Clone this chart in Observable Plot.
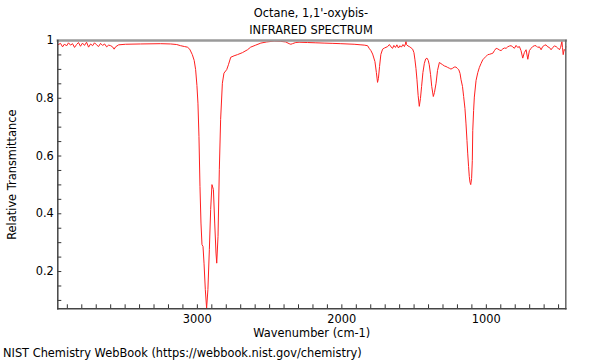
<!DOCTYPE html>
<html><head><meta charset="utf-8">
<script src="https://cdn.jsdelivr.net/npm/d3@7"></script>
<script src="https://cdn.jsdelivr.net/npm/@observablehq/plot@0.6"></script>
<style>
body{margin:0;background:#fff;font-family:"DejaVu Sans",sans-serif;}
#wrap{position:relative;width:600px;height:360px;overflow:hidden;background:#fff}
#wrap svg{position:absolute;left:0;top:0}
.t{position:absolute;font-size:11.4px;line-height:14px;color:#000;white-space:nowrap}
</style></head><body>
<div id="wrap">
<div class="t" style="left:311px;top:6px;transform:translateX(-50%)">Octane, 1,1'-oxybis-</div>
<div class="t" style="left:311px;top:23px;transform:translateX(-50%)">INFRARED SPECTRUM</div>
<div class="t" style="left:3px;top:346px">NIST Chemistry WebBook (https://webbook.nist.gov/chemistry)</div>
</div>
<script>
const wavenumber = [3966,3947,3933,3919,3906,3892,3878,3864,3850,3836,3823,3809,3795,3781,3767,3753,3739,3725,3712,3698,3684,3670,3656,3642,3628,3614,3600,3587,3576,3566,3545,3497,3393,3254,3185,3143,3116,3088,3069,3053,3035,3022,3012,3003,2996,2989,2982,2975,2968,2961,2954,2945,2936,2927,2917,2908,2899,2889,2880,2871,2866,2857,2848,2839,2827,2816,2797,2785,2769,2746,2723,2688,2653,2631,2596,2561,2520,2469,2423,2388,2365,2353,2342,2319,2296,2238,2180,2123,2062,2007,1915,1868,1845,1822,1811,1799,1787,1771,1761,1753,1747,1739,1730,1718,1705,1683,1671,1660,1649,1640,1629,1619,1608,1598,1588,1577,1567,1560,1556,1553,1542,1533,1522,1510,1501,1494,1487,1480,1472,1464,1456,1448,1439,1429,1420,1411,1402,1395,1386,1378,1367,1359,1348,1338,1325,1314,1302,1291,1279,1269,1256,1245,1233,1222,1210,1200,1191,1182,1175,1165,1157,1148,1141,1134,1129,1123,1118,1113,1108,1102,1097,1094,1088,1083,1071,1059,1048,1037,1025,1014,1002,990,979,967,955,944,932,921,909,898,886,875,863,852,840,829,817,806,794,783,771,760,748,737,725,713,702,690,679,667,656,644,633,621,610,598,587,575,564,552,540,529,517,506,494,486,477,473,468,461,454,450];
const transmittance = [.985,.990,.978,.988,.981,.992,.984,.989,.976,.986,.993,.980,.991,.983,.994,.977,.988,.982,.992,.985,.979,.990,.983,.988,.978,.984,.982,.978,.970,.978,.985,.987,.988,.989,.988,.986,.982,.979,.977,.970,.951,.931,.899,.844,.783,.668,.495,.368,.293,.287,.229,.137,.073,.138,.277,.415,.501,.484,.368,.264,.229,.322,.554,.727,.852,.887,.899,.916,.942,.947,.951,.958,.968,.977,.984,.991,.995,.998,.997,.995,.989,.987,.989,.993,.994,.993,.992,.991,.990,.989,.987,.985,.984,.982,.973,.965,.953,.927,.889,.855,.868,.910,.952,.970,.974,.979,.986,.978,.973,.983,.976,.985,.974,.982,.977,.986,.979,.988,1.000,.986,.981,.979,.975,.970,.958,.933,.903,.864,.810,.772,.799,.841,.889,.921,.936,.939,.931,.916,.882,.841,.806,.820,.852,.896,.924,.920,.916,.912,.910,.907,.904,.901,.904,.908,.908,.903,.899,.886,.864,.841,.806,.765,.714,.654,.610,.564,.529,.509,.501,.522,.585,.688,.758,.804,.862,.889,.907,.920,.933,.939,.945,.951,.952,.954,.956,.965,.973,.971,.967,.965,.971,.974,.973,.978,.981,.982,.978,.973,.983,.976,.979,.965,.939,.958,.968,.935,.965,.973,.979,.982,.982,.976,.978,.968,.979,.983,.985,.978,.976,.968,.976,.981,.979,.974,.968,.976,.997,.976,.951,.969,.965,.979];
const xTickValues = [3000, 2000, 1000];
const xMinorTicks = [3900,3800,3700,3600,3500,3400,3300,3200,3100,3000,2900,2800,2700,2600,2500,2400,2300,2200,2100,2000,1900,1800,1700,1600,1500,1400,1300,1200,1100,1000,900,800,700,600,500];
const yTickValues = [0.2, 0.4, 0.6, 0.8, 1];
const yMinorTicks = [0.1,0.15,0.2,0.25,0.3,0.35,0.4,0.45,0.5,0.55,0.6,0.65,0.7,0.75,0.8,0.85,0.9,0.95];

const data = wavenumber.map((w, i) => ({w, t: transmittance[i]}));
const mT = 40, mB = 51.7, mL = 57.3, mR = 34.7, W = 600, H = 360;
const frameH = H - mT - mB, frameW = W - mL - mR;
const chart = Plot.plot({
  width: W, height: H,
  marginTop: mT, marginBottom: mB, marginLeft: mL, marginRight: mR,
  style: {fontFamily: "DejaVu Sans, sans-serif", fontSize: "11.4px", color: "#000", background: "transparent", overflow: "visible"},
  x: {domain: [3966, 450]},
  y: {domain: [0.071, 1.0]},
  marks: [
    Plot.line(data, {x: "w", y: "t", stroke: "#ff2020", strokeWidth: 1}),
    Plot.axisX(xTickValues, {tickSize: 0, tickPadding: 6, fontSize: 11.4, tickFormat: d => String(d), label: "Wavenumber (cm-1)", labelAnchor: "center", labelArrow: "none", labelOffset: 28}),
    Plot.axisY(yTickValues, {tickSize: 0, tickPadding: 4, fontSize: 11.4, tickFormat: d => String(d), label: "Relative Transmittance", labelAnchor: "center", labelArrow: "none", labelOffset: 50}),
    Plot.tickX(xMinorTicks, {x: d => d, insetTop: frameH - 4, stroke: "#333"}),
    Plot.tickY(yMinorTicks, {y: d => d, insetRight: frameW - 4, stroke: "#333"}),
    Plot.frame({anchor: "top", stroke: "#9a9a9a", strokeWidth: 2.5}),
    Plot.frame({anchor: "right", stroke: "#666", strokeWidth: 1.5}),
    Plot.frame({anchor: "left", stroke: "#444", strokeWidth: 1.5}),
    Plot.frame({anchor: "bottom", stroke: "#444", strokeWidth: 1.5})
  ]
});
document.getElementById("wrap").prepend(chart);
</script>
</body></html>
